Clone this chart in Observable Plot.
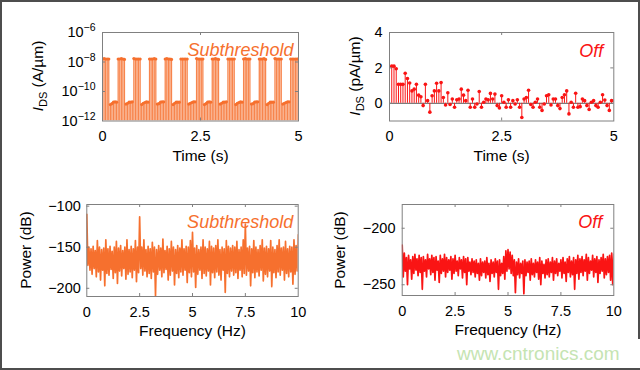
<!DOCTYPE html>
<html>
<head>
<meta charset="utf-8">
<script src="https://cdn.jsdelivr.net/npm/d3@7"></script>
<script src="https://cdn.jsdelivr.net/npm/@observablehq/plot@0.6"></script>
<style>
  html, body { margin: 0; padding: 0; background: #fff; }
  #chart { position: relative; width: 640px; height: 370px; overflow: hidden; background: #fff;
           font-family: "Liberation Sans", Arial, Helvetica, sans-serif; }
  .panel { position: absolute; }
  .panel svg { display: block; overflow: visible; }
  #border { position: absolute; left: 0; top: 0; width: 640px; height: 370px; box-sizing: border-box;
            border: 2px solid #4d4d4d; pointer-events: none; }
  #wm { position: absolute; left: 440px; top: 339px; width: 200px; height: 29px; background: #fff; }
  #wm span { position: absolute; left: 17px; top: 5px; font-size: 19px; line-height: 19px; color: #c5e4b2; white-space: nowrap; }
</style>
</head>
<body>
<div id="chart">
  <div class="panel" id="p1" style="left:0px;top:0px"></div>
  <div class="panel" id="p2" style="left:320px;top:0px"></div>
  <div class="panel" id="p3" style="left:0px;top:180px"></div>
  <div class="panel" id="p4" style="left:320px;top:180px"></div>
  <div id="border"></div>
  <div id="wm"><span>www.cntronics.com</span></div>
</div>
<script>
// ---------- data ----------
const subTimeStep = 0.04; // s
const subCurrent = [ // A/um
  1.6e-8,1.7e-8,1.6e-8,1.6e-8,1.6e-8,1.3e-11,1.5e-11,1.9e-11,2.0e-11,1.9e-11,
  1.6e-8,1.6e-8,1.7e-8,1.6e-8,1.5e-8,1.4e-11,1.6e-11,1.9e-11,1.9e-11,2.0e-11,
  1.7e-8,1.6e-8,1.6e-8,1.6e-8,1.6e-8,1.3e-11,1.6e-11,1.8e-11,2.0e-11,1.9e-11,
  1.6e-8,1.6e-8,1.6e-8,1.7e-8,1.6e-8,1.4e-11,1.5e-11,1.9e-11,2.0e-11,2.0e-11,
  1.6e-8,1.7e-8,1.6e-8,1.6e-8,1.5e-8,1.3e-11,1.6e-11,1.9e-11,1.9e-11,1.9e-11,
  1.6e-8,1.6e-8,1.6e-8,1.6e-8,1.6e-8,1.4e-11,1.6e-11,1.8e-11,2.0e-11,2.0e-11,
  1.7e-8,1.6e-8,1.6e-8,1.6e-8,1.6e-8,1.3e-11,1.5e-11,1.9e-11,2.0e-11,1.9e-11,
  1.6e-8,1.6e-8,1.7e-8,1.6e-8,1.5e-8,1.4e-11,1.6e-11,1.9e-11,1.9e-11,2.0e-11,
  1.6e-8,1.6e-8,1.6e-8,1.6e-8,1.6e-8,1.3e-11,1.6e-11,1.8e-11,2.0e-11,1.9e-11,
  1.6e-8,1.7e-8,1.6e-8,1.6e-8,1.6e-8,1.4e-11,1.5e-11,1.9e-11,2.0e-11,2.0e-11,
  1.6e-8,1.6e-8,1.6e-8,1.7e-8,1.5e-8,1.3e-11,1.6e-11,1.9e-11,1.9e-11,1.9e-11,
  1.7e-8,1.6e-8,1.6e-8,1.6e-8,1.6e-8,1.4e-11,1.6e-11,1.8e-11,2.0e-11,2.0e-11,
  1.6e-8,1.6e-8,1.6e-8,1.6e-8,1.6e-8,1.6e-8
];

const offTimeStep = 0.05; // s
const offCurrent = [ // pA/um
  5, 2.1, 2.1, 1.95, 1.07, 1.07, 1.07, 1.7, 1.4, 1.15,
  0.7, 0.8, 1.07, 0.46, 0.37, -0.13, 1.07, 0.15, -0.5, 0.43,
  0.7, 1.13, 0.7, 1.17, 0.33, -0.1, 0.6, -0.07, 0.24, -0.22,
  0.2, 0.24, 0.8, 0.46, 0.15, 0.74, -0.22, 0.24, -0.22, -0.04,
  0.67, -0.22, 0.06, 0.24, 0.2, 0.56, 0.24, 0.52, -0.13, -0.26,
  0.43, 0.06, -0.22, 0.2, -0.22, 0.15, -0.04, 0.2, -0.22, -0.8,
  0.24, 0.33, 0.74, -0.07, -0.22, 0.06, 0.24, -0.22, -0.4, -0.04,
  0.43, 0.48, -0.1, 0.24, 0.24, -0.13, -0.3, 0.33, 0.48, 0.7,
  -0.6, 0.06, -0.22, 0.57, -0.22, -0.19, 0.24, 0.15, -0.13, -0.35,
  0.06, 0.15, -0.13, -0.22, 0.06, 0.48, 0.19, -0.13, -0.4, 0.15,
  0.15
];

const freqStep = 0.05; // Hz
const subPower = [ // dB
  -110,-172,-150,-178,-152,-183,-149,-176,-154,-186,
  -142,-180,-150,-190,-153,-178,-151,-197,-141,-182,
  -152,-184,-149,-177,-155,-188,-150,-181,-143,-194,
  -151,-179,-148,-185,-154,-176,-150,-189,-141,-183,
  -153,-180,-149,-187,-152,-178,-142,-192,-150,-181,
  -113,-176,-150,-184,-141,-179,-153,-186,-149,-182,
  -152,-188,-144,-180,-150,-209,-153,-183,-148,-178,
  -151,-186,-140,-181,-154,-177,-149,-190,-152,-184,
  -143,-179,-150,-196,-153,-182,-148,-187,-151,-180,
  -141,-184,-152,-178,-149,-193,-150,-181,-142,-186,
  -132,-180,-151,-199,-148,-183,-153,-178,-150,-188,
  -141,-182,-150,-185,-152,-179,-143,-196,-149,-181,
  -151,-187,-148,-180,-141,-184,-153,-190,-150,-178,
  -152,-205,-142,-182,-149,-186,-151,-179,-148,-184,
  -150,-181,-143,-188,-153,-178,-150,-186,-141,-182,
  -122,-184,-151,-179,-149,-197,-152,-181,-142,-187,
  -150,-180,-153,-185,-148,-178,-141,-191,-151,-183,
  -149,-186,-152,-179,-142,-198,-150,-181,-153,-187,
  -148,-180,-141,-184,-151,-178,-150,-190,-143,-182,
  -152,-186,-149,-180,-150,-195,-141,-183,-148,-179,
  -135
];
const offPower = [ // dB
  -215,-243,-222,-238,-226,-250,-224,-236,-228,-245,
  -225,-240,-223,-237,-227,-242,-224,-239,-226,-254,
  -225,-238,-228,-243,-223,-236,-227,-241,-224,-239,
  -226,-246,-225,-237,-229,-248,-224,-240,-227,-238,
  -223,-243,-226,-239,-228,-237,-225,-245,-227,-240,
  -224,-238,-229,-242,-226,-236,-228,-244,-225,-239,
  -227,-250,-226,-238,-230,-241,-227,-239,-229,-243,
  -228,-240,-231,-246,-227,-242,-230,-239,-229,-244,
  -226,-241,-231,-247,-228,-240,-230,-243,-227,-239,
  -229,-254,-228,-242,-231,-240,-225,-245,-220,-238,
  -219,-236,-221,-240,-224,-242,-228,-257,-230,-241,
  -227,-244,-231,-240,-229,-258,-228,-242,-230,-239,
  -229,-246,-227,-241,-231,-243,-228,-239,-230,-245,
  -226,-250,-229,-240,-232,-244,-228,-241,-227,-243,
  -230,-239,-226,-246,-229,-240,-227,-242,-231,-238,
  -228,-244,-226,-240,-230,-247,-227,-239,-225,-243,
  -229,-241,-226,-254,-228,-240,-224,-245,-227,-239,
  -225,-242,-228,-238,-223,-246,-226,-240,-229,-237,
  -224,-243,-227,-239,-225,-248,-228,-240,-226,-238,
  -223,-244,-227,-241,-225,-239,-224,-246,-222,-250,
  -223
];

const timeTicks = [0, 2.5, 5];
const freqTicks = [0, 2.5, 5, 7.5, 10];
const logTicks = [1e-12, 1e-10, 1e-8, 1e-6];
const offTicks = [0, 2, 4];
const subPowerTicks = [-200, -150, -100];
const offPowerTicks = [-250, -200];

// ---------- styling ----------
const ORANGE = "#f6702e";
const RED = "#fa1414";
const FRAME = "#808080";
const FONT = '"Liberation Sans", Arial, Helvetica, sans-serif';
const style = {fontFamily: FONT, fontSize: "14.5px", color: "#000", background: "transparent", overflow: "visible"};

const fmtNum = d => d < 0 ? "\u2212" + Math.abs(d) : String(d);
const fmtPow = d => "10^" + fmtNum(Math.round(Math.log10(d)));

const subRows = subCurrent.map((v, i) => ({t: i * subTimeStep, v}));
const offRows = offCurrent.map((v, i) => ({t: i * offTimeStep, v}));
const subPowRows = subPower.map((p, i) => ({f: i * freqStep, p}));
const offPowRows = offPower.map((p, i) => ({f: i * freqStep, p}));

function innerTicks(xs, ys, fw, fh) {
  return [
    Plot.tickX(xs, {x: d => d, insetTop: fh - 3, stroke: FRAME}),
    Plot.tickX(xs, {x: d => d, insetBottom: fh - 3, stroke: FRAME}),
    Plot.tickY(ys, {y: d => d, insetRight: fw - 3, stroke: FRAME}),
    Plot.tickY(ys, {y: d => d, insetLeft: fw - 3, stroke: FRAME})
  ];
}

function yTitle(svg, cx, cy, unit, withSub) {
  const t = d3.select(svg).append("text")
    .attr("transform", `translate(${cx},${cy}) rotate(-90)`)
    .attr("text-anchor", "middle")
    .attr("font-size", 15.5)
    .attr("font-family", FONT)
    .attr("fill", "#000")
    .attr("dy", "0.36em");
  if (withSub) {
    t.append("tspan").attr("font-style", "italic").text("I");
    t.append("tspan").attr("font-size", 11).attr("dy", 4).text("DS");
    t.append("tspan").attr("dy", -4).text(" " + unit);
  } else {
    t.text(unit);
  }
}

function superscripts(svg) {
  d3.select(svg).selectAll("text").each(function () {
    const s = this.textContent;
    const m = s.match(/^10\^(.+)$/);
    if (!m) return;
    const el = d3.select(this);
    el.text(null);
    el.append("tspan").text("10");
    el.append("tspan").attr("font-size", 10.5).attr("dy", -6).text(m[1]);
  });
}

const axisCommon = {tickSize: 0, label: null};

// ---------- panel 1 ----------
const p1 = Plot.plot({
  width: 320, height: 180,
  marginLeft: 102, marginRight: 22, marginTop: 32, marginBottom: 59.5,
  style,
  x: {...axisCommon, domain: [0, 5], ticks: timeTicks, tickFormat: fmtNum, tickPadding: 10},
  y: {...axisCommon, type: "log", domain: [1e-12, 1e-6], ticks: logTicks, tickFormat: fmtPow, tickPadding: 7},
  marks: [
    Plot.ruleX(subRows, {x: "t", y1: () => 1e-12, y2: "v", stroke: ORANGE, strokeOpacity: 0.85, strokeWidth: 1.3, clip: true}),
    Plot.dot(subRows, {x: "t", y: "v", r: 1.6, fill: ORANGE, stroke: null, clip: true}),
    ...innerTicks([2.5], [1e-10, 1e-8], 196, 88.5),
    Plot.frame({stroke: FRAME}),
    Plot.text(["Subthreshold"], {frameAnchor: "top-right", dx: -5, dy: 10.5, textAnchor: "end", fontSize: 18, fontStyle: "italic", fill: ORANGE}),
    Plot.text(["Time (s)"], {frameAnchor: "bottom", dy: 40, fontSize: 15.5, fill: "#000"})
  ]
});
superscripts(p1);
yTitle(p1, 37, 76, "(A/\u00b5m)", true);
document.getElementById("p1").appendChild(p1);

// ---------- panel 2 ----------
const p2 = Plot.plot({
  width: 320, height: 180,
  marginLeft: 69, marginRight: 26.7, marginTop: 32, marginBottom: 59.5,
  style,
  x: {...axisCommon, domain: [0, 5], ticks: timeTicks, tickFormat: fmtNum, tickPadding: 10},
  y: {...axisCommon, domain: [-1, 4], ticks: offTicks, tickFormat: fmtNum, tickPadding: 7},
  marks: [
    Plot.ruleY([0], {stroke: "#333", strokeWidth: 0.8}),
    Plot.ruleX(offRows, {x: "t", y1: () => 0, y2: "v", stroke: RED, strokeWidth: 1, clip: true}),
    Plot.dot(offRows, {x: "t", y: "v", r: 1.8, fill: RED, stroke: null, clip: true}),
    ...innerTicks([2.5], [0, 2], 224.3, 88.5),
    Plot.frame({stroke: FRAME}),
    Plot.text(["Off"], {frameAnchor: "top-right", dx: -10.6, dy: 12, textAnchor: "end", fontSize: 18, fontStyle: "italic", fill: RED}),
    Plot.text(["Time (s)"], {frameAnchor: "bottom", dy: 40, fontSize: 15.5, fill: "#000"})
  ]
});
yTitle(p2, 34, 76, "(pA/\u00b5m)", true);
document.getElementById("p2").appendChild(p2);

// ---------- panel 3 ----------
const p3 = Plot.plot({
  width: 320, height: 190,
  marginLeft: 86.3, marginRight: 22.3, marginTop: 24, marginBottom: 74,
  style,
  x: {...axisCommon, domain: [0, 10], ticks: freqTicks, tickFormat: fmtNum, tickPadding: 10},
  y: {...axisCommon, domain: [-210, -98], ticks: subPowerTicks, tickFormat: fmtNum, tickPadding: 6},
  marks: [
    Plot.line(subPowRows, {x: "f", y: "p", stroke: ORANGE, strokeWidth: 1.7, clip: true}),
    ...innerTicks([2.5, 5, 7.5], [-100, -150, -200], 211.4, 92),
    Plot.frame({stroke: FRAME}),
    Plot.text(["Subthreshold"], {frameAnchor: "top-right", dx: -5, dy: 11, textAnchor: "end", fontSize: 18, fontStyle: "italic", fill: ORANGE}),
    Plot.text(["Frequency (Hz)"], {frameAnchor: "bottom", dy: 39, fontSize: 15.5, fill: "#000"})
  ]
});
yTitle(p3, 25, 70, "Power (dB)", false);
document.getElementById("p3").appendChild(p3);

// ---------- panel 4 ----------
const p4 = Plot.plot({
  width: 320, height: 190,
  marginLeft: 81.7, marginRight: 26.7, marginTop: 24, marginBottom: 75,
  style,
  x: {...axisCommon, domain: [0, 10], ticks: freqTicks, tickFormat: fmtNum, tickPadding: 10},
  y: {...axisCommon, domain: [-259.5, -179], ticks: offPowerTicks, tickFormat: fmtNum, tickPadding: 6.7},
  marks: [
    Plot.line(offPowRows, {x: "f", y: "p", stroke: RED, strokeWidth: 1.7, clip: true}),
    ...innerTicks([2.5, 5, 7.5], [-200, -250], 211.6, 91),
    Plot.frame({stroke: FRAME}),
    Plot.text(["Off"], {frameAnchor: "top-right", dx: -11.6, dy: 11, textAnchor: "end", fontSize: 18, fontStyle: "italic", fill: RED}),
    Plot.text(["Frequency (Hz)"], {frameAnchor: "bottom", dy: 39, fontSize: 15.5, fill: "#000"})
  ]
});
yTitle(p4, 19, 70, "Power (dB)", false);
document.getElementById("p4").appendChild(p4);
</script>
</body>
</html>
